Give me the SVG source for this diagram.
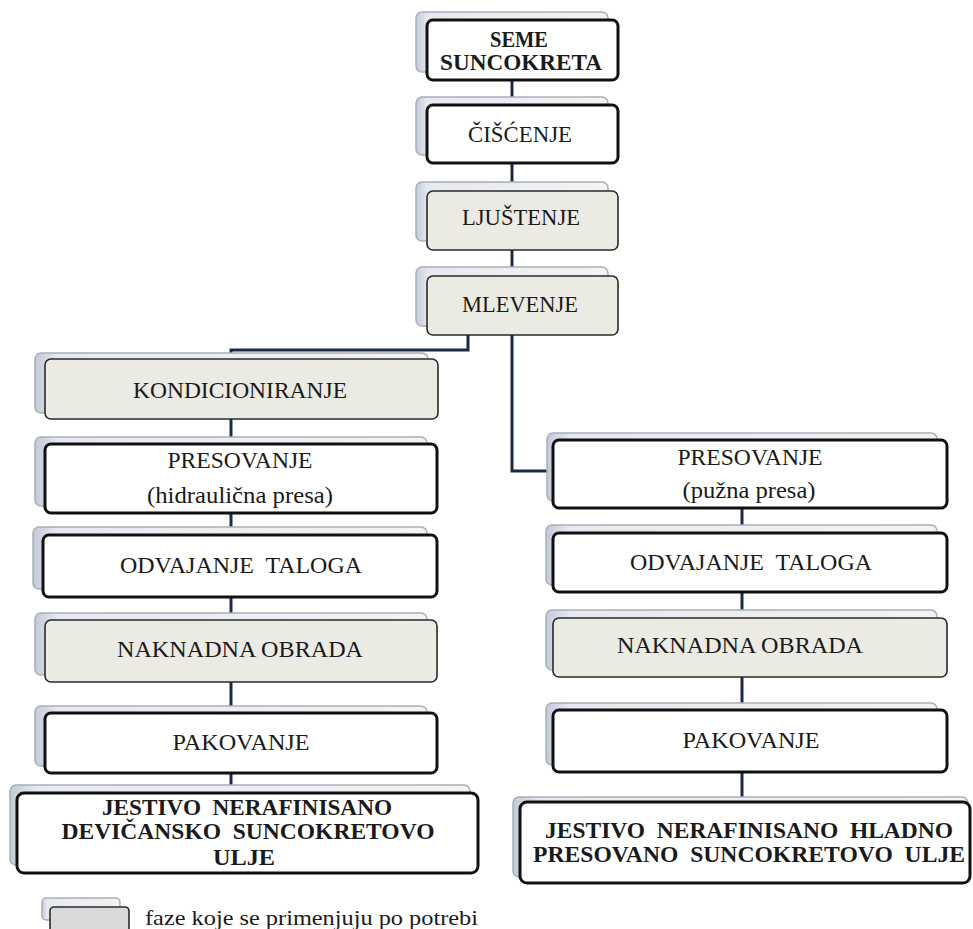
<svg xmlns="http://www.w3.org/2000/svg" width="973" height="929" viewBox="0 0 973 929">
<defs>
<linearGradient id="bk" x1="0" y1="0" x2="1" y2="0">
<stop offset="0" stop-color="#c3cad8"/>
<stop offset="0.06" stop-color="#e6e9ef"/>
<stop offset="1" stop-color="#f3f3f4"/>
</linearGradient>
<style>
.bg{fill:#ffffff}
.back{fill:url(#bk);stroke:#a9aeb8;stroke-width:1.5}
.w{fill:#ffffff;stroke:#111111;stroke-width:3}
.g{fill:#ebeae3;stroke:#2a2a2a;stroke-width:1.6}
.lg{fill:#d9d9d9;stroke:#2a2a2a;stroke-width:1.6}
.con{fill:none;stroke:#1c2a48;stroke-width:3}
text{font-family:"Liberation Serif","Times New Roman",serif;fill:#1a1a1a;text-anchor:middle}
.t{font-size:23px}
.b{font-size:23px;font-weight:bold}
.leg{font-size:21px;text-anchor:start}
</style>
</defs>
<rect class="bg" x="0" y="0" width="973" height="929"/>
<g id="connectors">
<path class="con" d="M512,80 V276"/>
<path class="con" d="M512,335 V471 H553"/>
<path class="con" d="M468,335 V350 H231 V793"/>
<path class="con" d="M742,508 V802"/>
</g>
<g id="seme">
<rect class="back" x="416" y="12" width="192" height="60" rx="6"/>
<rect class="w" x="427" y="20" width="191" height="60" rx="6"/>
<text class="b" x="519" y="47" textLength="58" lengthAdjust="spacingAndGlyphs">SEME</text>
<text class="b" x="521" y="70" textLength="162" lengthAdjust="spacingAndGlyphs">SUNCOKRETA</text>
</g>
<g id="ciscenje">
<rect class="back" x="416" y="97" width="192" height="58" rx="6"/>
<rect class="w" x="427" y="105" width="191" height="58" rx="6"/>
<text class="t" x="520" y="142" textLength="104" lengthAdjust="spacingAndGlyphs">ČIŠĆENJE</text>
</g>
<g id="ljustenje">
<rect class="back" x="416" y="182" width="192" height="59" rx="6"/>
<rect class="g" x="427" y="191" width="191" height="59" rx="6"/>
<text class="t" x="521" y="225" textLength="118" lengthAdjust="spacingAndGlyphs">LJUŠTENJE</text>
</g>
<g id="mlevenje">
<rect class="back" x="416" y="267" width="192" height="59" rx="6"/>
<rect class="g" x="427" y="276" width="191" height="59" rx="6"/>
<text class="t" x="520" y="312" textLength="116" lengthAdjust="spacingAndGlyphs">MLEVENJE</text>
</g>
<g id="kondicioniranje">
<rect class="back" x="35" y="353" width="393" height="60" rx="6"/>
<rect class="g" x="45" y="359" width="393" height="60" rx="6"/>
<text class="t" x="240" y="398" textLength="214" lengthAdjust="spacingAndGlyphs">KONDICIONIRANJE</text>
</g>
<g id="presovanje-l">
<rect class="back" x="35" y="437" width="392" height="69" rx="6"/>
<rect class="w" x="45" y="444" width="392" height="69" rx="6"/>
<text class="t" x="240" y="468" textLength="145" lengthAdjust="spacingAndGlyphs">PRESOVANJE</text>
<text class="t" x="240" y="503" textLength="186" lengthAdjust="spacingAndGlyphs">(hidraulična presa)</text>
</g>
<g id="odvajanje-l">
<rect class="back" x="33" y="527" width="394" height="62" rx="6"/>
<rect class="w" x="43" y="535" width="394" height="62" rx="6"/>
<text class="t" x="241" y="573" textLength="242" lengthAdjust="spacingAndGlyphs" xml:space="preserve">ODVAJANJE  TALOGA</text>
</g>
<g id="naknadna-l">
<rect class="back" x="35" y="613" width="392" height="62" rx="6"/>
<rect class="g" x="45" y="620" width="392" height="62" rx="6"/>
<text class="t" x="240" y="657" textLength="246" lengthAdjust="spacingAndGlyphs">NAKNADNA OBRADA</text>
</g>
<g id="pakovanje-l">
<rect class="back" x="35" y="706" width="392" height="60" rx="6"/>
<rect class="w" x="45" y="713" width="392" height="60" rx="6"/>
<text class="t" x="241" y="750" textLength="137" lengthAdjust="spacingAndGlyphs">PAKOVANJE</text>
</g>
<g id="final-l">
<rect class="back" x="10" y="785" width="460" height="80" rx="6"/>
<rect class="w" x="17" y="793" width="461" height="80" rx="7"/>
<text class="b" x="247" y="815" textLength="290" lengthAdjust="spacingAndGlyphs" xml:space="preserve">JESTIVO  NERAFINISANO</text>
<text class="b" x="248" y="839" textLength="373" lengthAdjust="spacingAndGlyphs" xml:space="preserve">DEVIČANSKO  SUNCOKRETOVO</text>
<text class="b" x="244" y="865" textLength="62" lengthAdjust="spacingAndGlyphs">ULJE</text>
</g>
<g id="presovanje-r">
<rect class="back" x="547" y="433" width="390" height="68" rx="6"/>
<rect class="w" x="553" y="440" width="394" height="68" rx="6"/>
<text class="t" x="750" y="465" textLength="145" lengthAdjust="spacingAndGlyphs">PRESOVANJE</text>
<text class="t" x="749" y="498" textLength="133" lengthAdjust="spacingAndGlyphs">(pužna presa)</text>
</g>
<g id="odvajanje-r">
<rect class="back" x="546" y="525" width="391" height="60" rx="6"/>
<rect class="w" x="553" y="533" width="394" height="59" rx="6"/>
<text class="t" x="751" y="570" textLength="242" lengthAdjust="spacingAndGlyphs" xml:space="preserve">ODVAJANJE  TALOGA</text>
</g>
<g id="naknadna-r">
<rect class="back" x="546" y="610" width="391" height="60" rx="6"/>
<rect class="g" x="553" y="618" width="394" height="59" rx="6"/>
<text class="t" x="740" y="653" textLength="246" lengthAdjust="spacingAndGlyphs">NAKNADNA OBRADA</text>
</g>
<g id="pakovanje-r">
<rect class="back" x="546" y="703" width="391" height="62" rx="6"/>
<rect class="w" x="553" y="710" width="394" height="62" rx="6"/>
<text class="t" x="751" y="748" textLength="137" lengthAdjust="spacingAndGlyphs">PAKOVANJE</text>
</g>
<g id="final-r">
<rect class="back" x="513" y="797" width="455" height="80" rx="6"/>
<rect class="w" x="520" y="802" width="450" height="81" rx="7"/>
<text class="b" x="749" y="838" textLength="408" lengthAdjust="spacingAndGlyphs" xml:space="preserve">JESTIVO  NERAFINISANO  HLADNO</text>
<text class="b" x="749" y="862" textLength="432" lengthAdjust="spacingAndGlyphs" xml:space="preserve">PRESOVANO  SUNCOKRETOVO  ULJE</text>
</g>
<g id="legend">
<rect class="back" x="42" y="898" width="78" height="22" rx="4"/>
<rect class="lg" x="50" y="907" width="79" height="26" rx="4"/>
<text class="leg" x="145" y="925" textLength="333" lengthAdjust="spacingAndGlyphs">faze koje se primenjuju po potrebi</text>
</g>
</svg>
